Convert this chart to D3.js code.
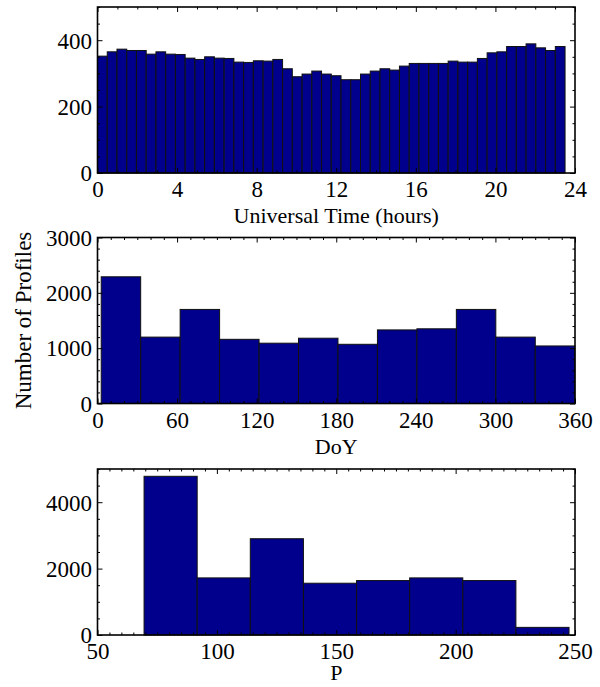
<!DOCTYPE html>
<html><head><meta charset="utf-8">
<script src="https://cdn.jsdelivr.net/npm/d3@7"></script>
<style>body{margin:0;background:#fff}svg{display:block}</style>
</head><body>
<script>
// ---- Data ----
const utCounts = [352,365,373,369,369,358,365,358,357,346,342,350,346,345,334,333,338,337,342,314,
                  290,298,307,298,293,281,281,298,307,314,310,322,330,330,330,330,337,334,334,345,
                  362,365,381,381,389,377,369,381];
const utRange = [0, 23.5];
const utXTicks = [0,4,8,12,16,20,24];
const utYTicks = [0,200,400];

const doyCounts = [2290,1200,1700,1160,1090,1180,1070,1330,1350,1700,1200,1040];
const doyRange = [2.8, 359.8];
const doyXTicks = [0,60,120,180,240,300,360];
const doyYTicks = [0,1000,2000,3000];

const pCounts = [4780,1720,2900,1560,1640,1720,1640,230];
const pRange = [69.5, 247.5];
const pXTicks = [50,100,150,200,250];
const pYTicks = [0,2000,4000];

const xTitles = ["Universal Time (hours)", "DoY", "P"];
const yTitle = "Number of Profiles";

// ---- Layout ----
const W = 600, H = 687;
const left = 97.5, right = 575, ph = 166;
const panels = [
  {counts: utCounts, range: utRange, xDom: [0,24], xTicks: utXTicks, xMinor: 1,
   yDom: [0,500], yTicks: utYTicks, yMinor: 50, top: 7, title: xTitles[0], titleOff: 50},
  {counts: doyCounts, range: doyRange, xDom: [0,360], xTicks: doyXTicks, xMinor: 10,
   yDom: [0,3000], yTicks: doyYTicks, yMinor: 200, top: 237.5, title: xTitles[1], titleOff: 50},
  {counts: pCounts, range: pRange, xDom: [50,250], xTicks: pXTicks, xMinor: 5,
   yDom: [0,5000], yTicks: pYTicks, yMinor: 500, top: 469, title: xTitles[2], titleOff: 44.5}
];

const font = "'Liberation Serif','Times New Roman',serif";
const svg = d3.select("body").append("svg").attr("width", W).attr("height", H)
  .style("font-family", font);

const majLen = 5, minLen = 2.5;

panels.forEach(p => {
  const x = d3.scaleLinear().domain(p.xDom).range([left, right]);
  const y = d3.scaleLinear().domain(p.yDom).range([p.top + ph, p.top]);
  const g = svg.append("g");
  const n = p.counts.length;
  const bw = (p.range[1] - p.range[0]) / n;
  const bins = p.counts.map((c, i) => ({x0: p.range[0] + i*bw, x1: p.range[0] + (i+1)*bw, c}));

  g.selectAll("rect.bar").data(bins).join("rect").attr("class","bar")
    .attr("x", d => x(d.x0)).attr("width", d => x(d.x1) - x(d.x0))
    .attr("y", d => y(d.c)).attr("height", d => y(0) - y(d.c))
    .attr("fill", "#00008c").attr("stroke", "#111").attr("stroke-width", 1);

  const minorX = d3.range(p.xDom[0], p.xDom[1] + 1e-9, p.xMinor).filter(v => !p.xTicks.includes(v));
  const minorY = d3.range(p.yDom[0], p.yDom[1] + 1e-9, p.yMinor);

  const bottom = p.top + ph;
  function ax(gen, tr) {
    const a = g.append("g").attr("transform", tr).call(gen);
    a.select(".domain").remove();
    a.selectAll("line").attr("stroke", "#000").attr("stroke-width", 1);
    return a;
  }
  // bottom major with labels
  const bx = ax(d3.axisBottom(x).tickValues(p.xTicks).tickSizeInner(-majLen).tickSizeOuter(0).tickPadding(0)
      .tickFormat(d3.format("d")), `translate(0,${bottom})`);
  bx.selectAll("text").attr("y", 24).attr("dy", null).attr("fill", "#000")
    .style("font-size", "23px").style("font-family", font);
  ax(d3.axisBottom(x).tickValues(minorX).tickSizeInner(-minLen).tickSizeOuter(0).tickFormat(""), `translate(0,${bottom})`);
  // top
  ax(d3.axisTop(x).tickValues(p.xTicks).tickSizeInner(-majLen).tickSizeOuter(0).tickFormat(""), `translate(0,${p.top})`);
  ax(d3.axisTop(x).tickValues(minorX).tickSizeInner(-minLen).tickSizeOuter(0).tickFormat(""), `translate(0,${p.top})`);
  // left major with labels
  const ly = ax(d3.axisLeft(y).tickValues(p.yTicks).tickSizeInner(-majLen).tickSizeOuter(0).tickPadding(5.5)
      .tickFormat(d3.format("d")), `translate(${left},0)`);
  ly.selectAll("text").attr("fill", "#000").attr("dy", "0.34em")
    .style("font-size", "23px").style("font-family", font);
  const minorYv = minorY.filter(v => !p.yTicks.includes(v));
  ax(d3.axisLeft(y).tickValues(minorYv).tickSizeInner(-minLen).tickSizeOuter(0).tickFormat(""), `translate(${left},0)`);
  // right
  ax(d3.axisRight(y).tickValues(p.yTicks).tickSizeInner(-majLen).tickSizeOuter(0).tickFormat(""), `translate(${right},0)`);
  ax(d3.axisRight(y).tickValues(minorYv).tickSizeInner(-minLen).tickSizeOuter(0).tickFormat(""), `translate(${right},0)`);

  // frame
  g.append("rect").attr("x", left).attr("y", p.top).attr("width", right - left).attr("height", ph)
    .attr("fill", "none").attr("stroke", "#000").attr("stroke-width", 1.6);

  // x title
  g.append("text").attr("x", (left + right)/2).attr("y", bottom + p.titleOff)
    .attr("text-anchor", "middle").style("font-size", "22px").text(p.title);
});

// y title (centered on middle panel)
const midC = panels[1].top + ph/2;
svg.append("text").attr("transform", `translate(31,${midC}) rotate(-90)`)
  .attr("text-anchor", "middle").style("font-size", "23px").text(yTitle);
</script>
</body></html>
